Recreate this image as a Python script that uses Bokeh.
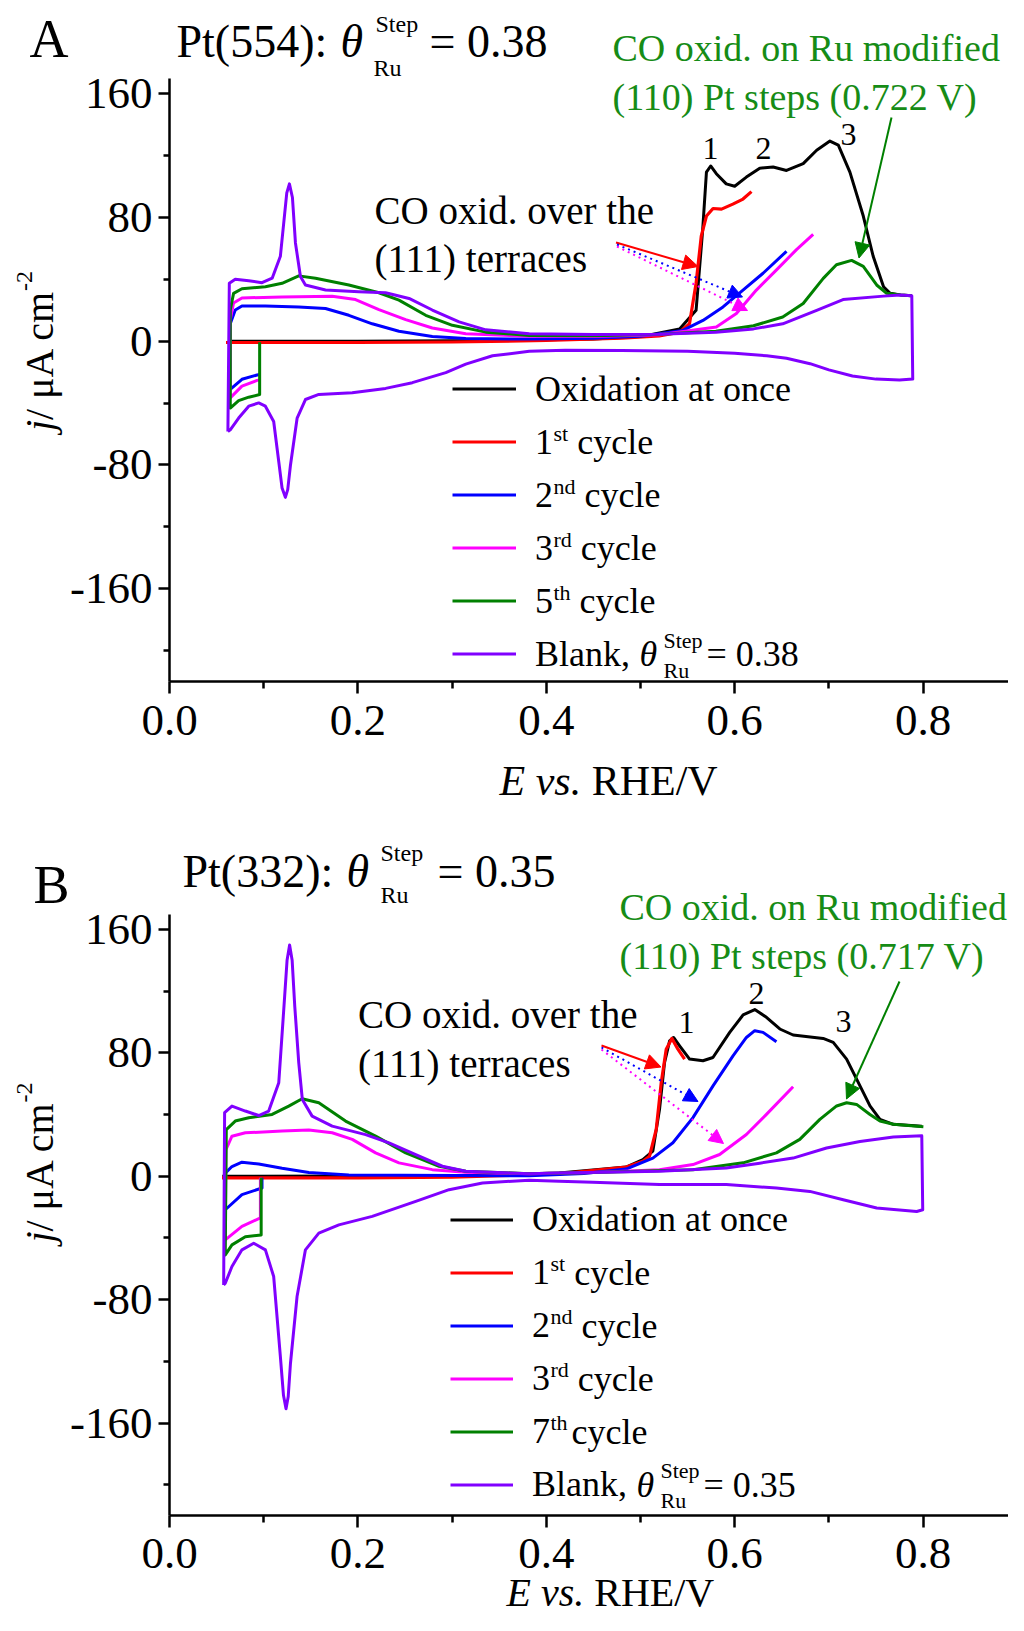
from bokeh.plotting import figure
from bokeh.models import Label, Arrow, NormalHead, Legend, LegendItem, FixedTicker
from bokeh.layouts import column
from bokeh.embed import file_html
from bokeh.resources import INLINE

FONT = "Liberation Serif"

# ---------------- data: (E / V, j / uA cm-2) ----------------
A_BLACK = [(0.062, 0.0), (0.2, 0.0), (0.35, 0.5), (0.45, 1.5), (0.5, 3.0), (0.5415, 8.0), (0.559, 20.0),
           (0.566, 72.0), (0.570, 109.4), (0.5745, 113.4), (0.5805, 108.4), (0.591, 101.8), (0.600, 100.3),
           (0.6124, 106.2), (0.6266, 112.0), (0.6408, 112.7), (0.655, 110.5), (0.6727, 114.9), (0.687, 123.6),
           (0.7011, 129.5), (0.71, 126.9), (0.7223, 109.4), (0.7365, 81.0), (0.747, 55.0), (0.758, 35.3),
           (0.765, 31.0), (0.776, 30.0), (0.788, 29.5)]
A_RED = [(0.06, -0.8), (0.2, -0.8), (0.3, -0.5), (0.4, 0.5), (0.48, 2.0), (0.52, 3.5), (0.5415, 5.9),
         (0.552, 11.3), (0.559, 37.5), (0.5645, 68.0), (0.570, 81.0), (0.577, 85.9), (0.586, 85.5),
         (0.598, 88.7), (0.6088, 92.0), (0.6178, 96.8)]
A_BLUE = [(0.0957, -21.5), (0.093, -21.8), (0.0769, -24.6), (0.0645, -31.2), (0.0645, 11.3), (0.0698, 20.2),
          (0.0769, 22.8), (0.1018, 22.8), (0.1372, 22.2), (0.1656, 21.2), (0.1904, 16.8), (0.2152, 11.3),
          (0.2436, 6.5), (0.279, 3.1), (0.3145, 1.8), (0.3819, 1.4), (0.45, 2.0), (0.50, 3.2), (0.545, 7.0),
          (0.5663, 13.5), (0.5876, 22.2), (0.6088, 33.1), (0.6301, 44.0), (0.655, 58.2)]
A_MAGENTA = [(0.0957, -25.0), (0.093, -25.3), (0.0769, -29.0), (0.0645, -36.6), (0.0645, 13.9), (0.068, 24.8),
             (0.0769, 28.0), (0.1195, 28.7), (0.1727, 29.1), (0.1975, 27.0), (0.2223, 20.5), (0.2507, 14.0),
             (0.279, 8.6), (0.3145, 4.9), (0.3819, 3.2), (0.45, 3.0), (0.52, 4.2), (0.5805, 9.2),
             (0.6018, 17.9), (0.623, 33.1), (0.6444, 46.2), (0.6656, 59.3), (0.6833, 69.1)]
A_GREEN = [(0.0957, -0.6), (0.0957, -34.5), (0.0841, -36.2), (0.0734, -38.4), (0.0645, -43.2), (0.0645, 20.2),
           (0.068, 31.0), (0.0769, 34.0), (0.1018, 35.3), (0.1195, 37.5), (0.1372, 42.3), (0.155, 40.8),
           (0.1904, 36.4), (0.2223, 31.4), (0.2436, 26.6), (0.272, 16.8), (0.3003, 10.3), (0.3358, 5.9),
           (0.3819, 3.7), (0.45, 3.5), (0.52, 4.5), (0.58, 6.5), (0.62, 10.0), (0.651, 15.7), (0.6727, 24.4),
           (0.694, 40.7), (0.708, 49.5), (0.7241, 52.3), (0.7365, 48.4), (0.7507, 36.4), (0.7613, 31.0),
           (0.776, 30.0), (0.788, 29.5)]
A_BLANK = [(0.062, -58.4), (0.0635, 37.5), (0.0698, 40.1), (0.0841, 39.2), (0.0982, 37.9), (0.109, 40.8),
           (0.1177, 55.0), (0.1213, 76.7), (0.1245, 96.0), (0.1273, 101.8), (0.1305, 93.0), (0.1337, 63.6),
           (0.139, 41.9), (0.1443, 36.4),
           (0.1656, 33.2), (0.201, 32.1), (0.2294, 31.4), (0.2543, 27.7), (0.279, 20.2), (0.3074, 12.5),
           (0.3358, 7.4), (0.3819, 4.9), (0.45, 4.3), (0.52, 4.6), (0.58, 5.9), (0.62, 8.0), (0.651, 11.3),
           (0.687, 20.0), (0.715, 27.0), (0.758, 29.2), (0.776, 30.0), (0.788, 29.5), (0.789, -24.5),
           (0.775, -25.0), (0.75, -24.5), (0.725, -22.5), (0.70, -18.5), (0.68, -14.5), (0.655, -11.0),
           (0.634, -9.4), (0.60, -7.8), (0.55, -6.5), (0.48, -6.0), (0.42, -5.8), (0.3819, -6.5),
           (0.3429, -9.4), (0.3145, -14.8), (0.2933, -20.3), (0.2578, -26.8), (0.2294, -30.5), (0.194, -33.3),
           (0.1585, -34.4), (0.1443, -37.7), (0.1355, -49.7), (0.1284, -80.2), (0.1255, -96.0), (0.123, -101.0),
           (0.1195, -95.0), (0.116, -78.0),
           (0.1106, -51.9), (0.1018, -42.0), (0.0947, -39.9), (0.0841, -42.0), (0.0734, -49.7),
           (0.0645, -57.3), (0.062, -58.4)]

B_BLACK = [(0.056, 0.0), (0.3, 0.3), (0.4138, 2.2), (0.4847, 6.0), (0.5025, 10.8), (0.5131, 16.3),
           (0.5202, 43.4), (0.5255, 73.7), (0.5309, 87.8), (0.5351, 90.0), (0.5415, 84.6), (0.5521, 76.0),
           (0.5663, 74.9), (0.5769, 77.0), (0.5947, 93.3), (0.6089, 104.6), (0.6213, 108.1), (0.6337, 103.1),
           (0.6479, 95.5), (0.662, 91.6), (0.6939, 89.4), (0.7046, 86.8), (0.7188, 76.0), (0.733, 58.6),
           (0.7436, 45.6), (0.7542, 36.9), (0.7684, 33.7), (0.7986, 32.5)]
B_RED = [(0.0557, -1.1), (0.2, -1.1), (0.3, -0.5), (0.4138, 1.5), (0.4847, 6.0), (0.5025, 9.7), (0.5096, 13.0),
         (0.5167, 30.4), (0.522, 60.7), (0.5273, 82.4), (0.5333, 89.4), (0.5397, 82.4), (0.5468, 76.0)]
B_BLUE = [(0.0982, -1.0), (0.0982, -7.6), (0.0769, -11.9), (0.0592, -21.7), (0.0592, 2.0), (0.0663, 6.3),
          (0.0769, 9.1), (0.0947, 8.0), (0.1195, 5.2), (0.1479, 2.4), (0.1904, 0.9), (0.3819, 0.3),
          (0.44, 1.8), (0.4847, 4.7), (0.5131, 11.8), (0.5344, 21.7), (0.5557, 38.0), (0.577, 58.6),
          (0.5982, 78.1), (0.6124, 90.0), (0.6213, 94.4), (0.6301, 93.3), (0.6443, 87.2)]
B_MAGENTA = [(0.0965, -1.0), (0.0965, -27.0), (0.0769, -32.5), (0.0592, -41.2), (0.0599, 17.3), (0.0663, 26.0),
             (0.0805, 28.2), (0.1195, 29.3), (0.1479, 30.0), (0.1727, 28.2), (0.194, 23.9), (0.2188, 15.2),
             (0.2436, 8.7), (0.279, 4.3), (0.3145, 2.6), (0.3819, 1.7), (0.45, 2.5), (0.5202, 4.3),
             (0.5557, 7.6), (0.584, 14.1), (0.6124, 27.1), (0.6337, 40.1), (0.662, 58.1)]
B_GREEN = [(0.0973, -1.0), (0.0973, -38.1), (0.0805, -39.2), (0.0663, -44.5), (0.0592, -51.0), (0.0603, 30.3),
           (0.0698, 35.8), (0.0841, 37.9), (0.1089, 40.1), (0.1266, 45.5), (0.1408, 50.3), (0.1585, 47.7),
           (0.1869, 35.8), (0.2188, 26.0), (0.2507, 15.2), (0.2862, 6.5), (0.3145, 3.3), (0.3819, 1.7),
           (0.45, 2.5), (0.5557, 4.3), (0.6089, 8.7), (0.6443, 15.2), (0.6691, 23.9), (0.6904, 36.9),
           (0.7082, 45.6), (0.7188, 47.7), (0.7294, 46.6), (0.7436, 40.1), (0.7542, 35.8), (0.7684, 33.7),
           (0.8003, 32.1)]
B_BLANK = [(0.0575, -70.5), (0.0585, 41.2), (0.0663, 45.5), (0.0805, 42.3), (0.0947, 39.4), (0.1053, 42.3),
           (0.116, 60.7), (0.1215, 110.0), (0.1248, 140.0), (0.1275, 150.0), (0.1302, 140.0), (0.133, 110.0),
           (0.1372, 73.7), (0.141, 49.8),
           (0.1514, 39.0), (0.1727, 32.5), (0.2082, 27.0), (0.233, 21.7), (0.2614, 14.0), (0.2897, 6.5),
           (0.3146, 3.2), (0.3819, 1.7), (0.4138, 2.2), (0.5202, 3.2), (0.5911, 5.4), (0.6266, 8.5),
           (0.662, 11.8), (0.6975, 18.3), (0.733, 22.6), (0.7684, 25.4), (0.7986, 26.2), (0.7996, -21.7),
           (0.7932, -22.8), (0.7507, -20.6), (0.7152, -15.2), (0.6798, -9.8), (0.6443, -7.6), (0.5911, -5.4),
           (0.5202, -5.4), (0.4493, -3.9), (0.4138, -3.3), (0.3819, -2.6), (0.3323, -4.3), (0.2968, -8.7),
           (0.2614, -16.3), (0.2152, -26.0), (0.1798, -31.5), (0.1585, -36.9), (0.1443, -47.7),
           (0.1354, -78.0), (0.1284, -121.4), (0.126, -143.0), (0.1237, -150.7), (0.121, -142.0),
           (0.1177, -117.0), (0.1106, -65.0),
           (0.1018, -47.7), (0.0894, -43.4), (0.0769, -47.7), (0.0663, -58.5), (0.0592, -69.4), (0.0575, -70.5)]

X_TICKS = [0.0, 0.2, 0.4, 0.6, 0.8]
X_MINOR = [0.1, 0.3, 0.5, 0.7]
X_LABELS = ["0.0", "0.2", "0.4", "0.6", "0.8"]
Y_TICKS = [-160, -80, 0, 80, 160]
Y_MINOR = [-200, -120, -40, 40, 120]
Y_LABELS = ["-160", "-80", "0", "80", "160"]
X_BOUNDS = (0.0, 0.9)
Y_BOUNDS = (-220.0, 170.0)

SERIES_NAMES = ["black", "red", "blue", "magenta", "green", "blank"]
COLORS = {"black": "#000000", "red": "#FF0000", "blue": "#0000FF", "magenta": "#FF00FF",
          "green": "#008000", "blank": "#8000FF"}
GREEN_TXT = "#168c16"

# ---------------- page geometry (pixels) ----------------
PAGE_L, FIG_W = 8, 1008
E0_PX, PX_PER_V = 177.0, 942.0


class Panel:
    """Maps reference-page pixel positions to data; dy shifts the whole panel on the page."""

    def __init__(self, canvas_top, height, top170_px, px_per_unit, dy=0.0):
        self.top, self.h = canvas_top, height
        self.t170, self.pu, self.dy = top170_px, px_per_unit, dy

    def E(self, px):
        return (px - E0_PX) / PX_PER_V

    def J(self, py):
        return Y_BOUNDS[1] - (py - self.t170) / self.pu


def make_fig(pn, series, leg_labels, leg_line_x, leg_bottom_px, glyph_w, standoff, x_standoff):
    p = figure(width=FIG_W, height=pn.h, title=None,
               x_range=(pn.E(PAGE_L), pn.E(PAGE_L + FIG_W)),
               y_range=(pn.J(pn.top + pn.h - pn.dy), pn.J(pn.top - pn.dy)),
               output_backend="svg", toolbar_location=None,
               min_border=0, min_border_left=0, min_border_right=0,
               min_border_top=0, min_border_bottom=0)
    p.outline_line_color = None
    p.xgrid.visible = False
    p.ygrid.visible = False
    p.background_fill_color = "white"
    p.border_fill_color = "white"

    p.xaxis.fixed_location = Y_BOUNDS[0]
    p.yaxis.fixed_location = X_BOUNDS[0]
    p.xaxis.bounds = X_BOUNDS
    p.yaxis.bounds = Y_BOUNDS
    p.xaxis.ticker = FixedTicker(ticks=X_TICKS, minor_ticks=X_MINOR)
    p.xaxis.major_label_overrides = dict(zip(X_TICKS, X_LABELS))
    p.yaxis.ticker = FixedTicker(ticks=Y_TICKS, minor_ticks=Y_MINOR)
    p.yaxis.major_label_overrides = dict(zip(Y_TICKS, Y_LABELS))
    for ax in (p.xaxis, p.yaxis):
        ax.axis_line_width = 2.5
        ax.axis_line_color = "black"
        ax.major_tick_line_width = 2.5
        ax.minor_tick_line_width = 2.5
        ax.major_tick_line_color = "black"
        ax.minor_tick_line_color = "black"
        ax.major_tick_in = 0
        ax.minor_tick_in = 0
        ax.major_label_text_font = FONT
        ax.major_label_text_font_size = "45px"
        ax.major_label_text_color = "black"
    p.xaxis.major_tick_out = 12
    p.xaxis.minor_tick_out = 7
    p.xaxis.major_label_standoff = x_standoff
    p.yaxis.major_tick_out = 11
    p.yaxis.minor_tick_out = 6
    p.yaxis.major_label_standoff = 6

    rends = []
    for name in SERIES_NAMES:
        pts = series[name]
        r = p.line([e for e, j in pts], [j for e, j in pts], line_color=COLORS[name],
                   line_width=3.2 if name == "red" else 3.0, line_join="round")
        rends.append(r)

    items = [LegendItem(label=lbl, renderers=[r]) for lbl, r in zip(leg_labels, rends)]
    leg = Legend(items=items,
                 location=(leg_line_x - PAGE_L, pn.top + pn.h - (leg_bottom_px + pn.dy)),
                 glyph_width=glyph_w, glyph_height=53, label_height=53, label_standoff=standoff,
                 spacing=0, padding=0, margin=0, border_line_alpha=0, background_fill_alpha=0,
                 label_text_font=FONT, label_text_font_size="36px", label_text_baseline="middle",
                 label_text_color="black")
    p.add_layout(leg)
    return p


def lab(p, pn, x, y, text, size, color="black", style="normal", align="left", angle=0.0):
    p.add_layout(Label(x=pn.E(x), y=pn.J(y), text=text, text_font=FONT,
                       text_font_size=f"{size}px", text_font_style=style, text_color=color,
                       text_align=align, text_baseline="middle", angle=angle))


def arrow(p, pn, x0, y0, x1, y1, color, dash="solid", size=15):
    p.add_layout(Arrow(x_start=pn.E(x0), y_start=pn.J(y0), x_end=pn.E(x1), y_end=pn.J(y1),
                       line_color=color, line_width=2.0, line_dash=dash,
                       end=NormalHead(size=size, fill_color=color, line_color=color, line_width=1)))


def legend_extras(p, pn, text_x, row0, sups, cycle_gaps, blank_value):
    for k, (sup, gap) in enumerate(zip(sups, cycle_gaps)):
        yc = row0 + 53 * (k + 1)
        lab(p, pn, text_x + 18, yc - 9, sup, 22)
        lab(p, pn, text_x + gap, yc, "cycle", 36)
    yc = row0 + 53 * 5
    lab(p, pn, text_x + 104, yc, "\u03b8", 36, style="italic")
    lab(p, pn, text_x + 128, yc - 14, "Step", 22)
    lab(p, pn, text_x + 128, yc + 16, "Ru", 22)
    lab(p, pn, text_x + 171, yc, "= " + blank_value, 36)


def axis_titles(p, pn, ylab_bottom, xlab_x, xlab_y, xlab_size=42):
    rot = 1.5708
    lab(p, pn, 47, ylab_bottom, "j", 40, style="italic", angle=rot)
    lab(p, pn, 47, ylab_bottom - 11, "/ \u03bcA cm", 40, angle=rot)
    lab(p, pn, 32, ylab_bottom - 140, "-2", 24, angle=rot)
    lab(p, pn, xlab_x, xlab_y, "E vs.", xlab_size, style="italic")
    lab(p, pn, xlab_x + 2.194 * xlab_size, xlab_y, "RHE/V", xlab_size)


# ---------------- Panel A ----------------
PA = Panel(8, 808, 86.0, 1.5456)
pA = make_fig(PA, dict(black=A_BLACK, red=A_RED, blue=A_BLUE, magenta=A_MAGENTA, green=A_GREEN, blank=A_BLANK),
              ["Oxidation at once", "1", "2", "3", "5", "Blank,"], 460, 688, 64, 19, 13)
legend_extras(pA, PA, 543, 396.5, ["st", "nd", "rd", "th"], [41.7, 49, 45.3, 44.1], "0.38")

lab(pA, PA, 37, 46.5, "A", 54)
lab(pA, PA, 184, 48.5, "Pt(554): ", 46)
lab(pA, PA, 348, 48.5, "\u03b8", 46, style="italic")
lab(pA, PA, 381, 75, "Ru", 24)
lab(pA, PA, 383, 31, "Step", 24)
lab(pA, PA, 437, 48.5, "= 0.38", 46)
axis_titles(pA, PA, 438.5, 507, 788)

lab(pA, PA, 382, 218, "CO oxid. over the", 39)
lab(pA, PA, 382, 266, "(111) terraces", 39)
lab(pA, PA, 620, 55.5, "CO oxid. on Ru modified", 38, color=GREEN_TXT)
lab(pA, PA, 620, 104.5, "(110) Pt steps (0.722 V)", 38, color=GREEN_TXT)
lab(pA, PA, 718, 155.5, "1", 32, align="center")
lab(pA, PA, 771, 155.5, "2", 32, align="center")
lab(pA, PA, 856, 142, "3", 32, align="center")

arrow(pA, PA, 623.5, 250, 705.5, 274, "#FF0000")
arrow(pA, PA, 624.5, 252, 750, 304.5, "#0000FF", dash="2 4", size=14)
arrow(pA, PA, 624.5, 254, 755, 318, "#FF00FF", dash="2 4", size=14)
arrow(pA, PA, 899, 125, 866.5, 265.5, "#008000")

# ---------------- Panel B (shifted up so that its axis title fits on the page) ----------------
PB = Panel(816, 807, 937.6, 1.5422, dy=-16.0)
pB = make_fig(PB, dict(black=B_BLACK, red=B_RED, blue=B_BLUE, magenta=B_MAGENTA, green=B_GREEN, blank=B_BLANK),
              ["Oxidation at once", "1", "2", "3", "7", "Blank,"], 458, 1534.5, 63, 19, 11)
legend_extras(pB, PB, 540, 1243, ["st", "nd", "rd", "th"], [41.7, 49, 45.3, 39], "0.35")

lab(pB, PB, 41, 908, "B", 54)
lab(pB, PB, 190, 895, "Pt(332): ", 46)
lab(pB, PB, 354, 895, "\u03b8", 46, style="italic")
lab(pB, PB, 388, 918, "Ru", 24)
lab(pB, PB, 388, 876, "Step", 24)
lab(pB, PB, 445, 895, "= 0.35", 46)
axis_titles(pB, PB, 1266, 514, 1616, xlab_size=40)

lab(pB, PB, 365.5, 1037.5, "CO oxid. over the", 39)
lab(pB, PB, 365.5, 1086.5, "(111) terraces", 39)
lab(pB, PB, 627, 930, "CO oxid. on Ru modified", 38, color=GREEN_TXT)
lab(pB, PB, 627, 979, "(110) Pt steps (0.717 V)", 38, color=GREEN_TXT)
lab(pB, PB, 694, 1045.5, "1", 32, align="center")
lab(pB, PB, 764, 1016.5, "2", 32, align="center")
lab(pB, PB, 851, 1044.5, "3", 32, align="center")

arrow(pB, PB, 609, 1069, 668.5, 1090.5, "#FF0000")
arrow(pB, PB, 609, 1071, 705.5, 1125, "#0000FF", dash="2 4", size=14)
arrow(pB, PB, 609, 1073, 731, 1167, "#FF00FF", dash="2 4", size=14)
arrow(pB, PB, 907, 1005, 854, 1122.5, "#008000")

layout = column(pA, pB, spacing=0)
open("out.html", "w").write(file_html(layout, INLINE))
